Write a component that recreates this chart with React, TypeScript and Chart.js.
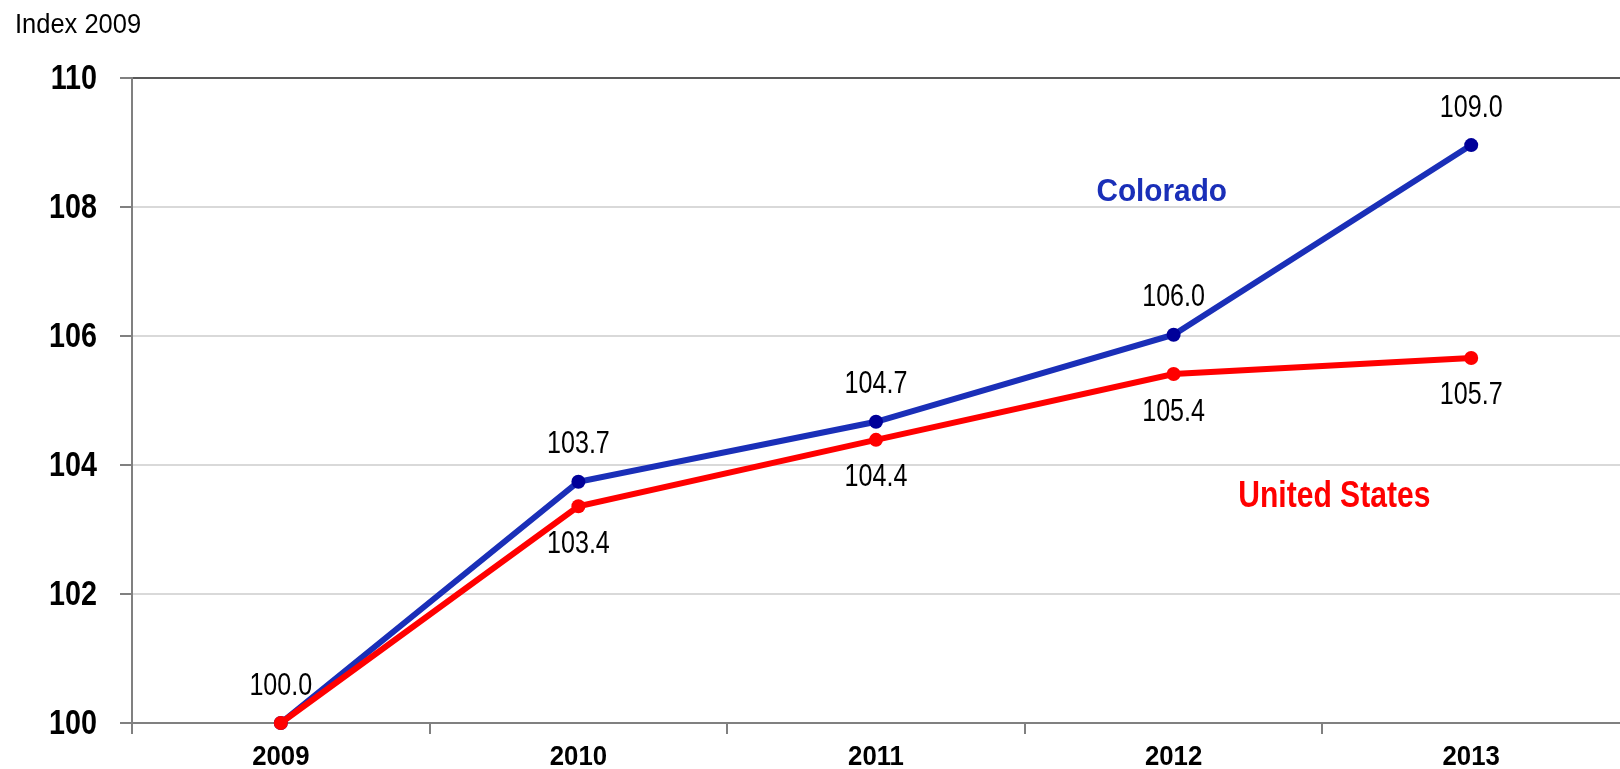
import { useEffect, useRef } from 'react';
import { Chart, registerables } from 'chart.js';

Chart.register(...registerables);

const years = ['2009', '2010', '2011', '2012', '2013'];
const colorado = [100.0, 103.74, 104.67, 106.02, 108.96];
const unitedStates = [100.0, 103.36, 104.39, 105.41, 105.66];
const coloradoLabels = ['100.0', '103.7', '104.7', '106.0', '109.0'];
const usLabels = [null, '103.4', '104.4', '105.4', '105.7'];
const yMin = 100;
const yMax = 110;
const yStep = 2;

const SANS = "'Liberation Sans', Arial, sans-serif";

const BLUE_LINE = '#1a2fb8';
const BLUE_POINT = '#000099';
const RED = '#ff0000';
const AXIS = '#808080';

function drawText(
  ctx: CanvasRenderingContext2D,
  text: string,
  x: number,
  y: number,
  font: string,
  color: string,
  align: CanvasTextAlign,
  baseline: CanvasTextBaseline,
  sx: number
) {
  ctx.save();
  ctx.translate(x, y);
  ctx.scale(sx, 1);
  ctx.font = font;
  ctx.fillStyle = color;
  ctx.textAlign = align;
  ctx.textBaseline = baseline;
  ctx.fillText(text, 0, 0);
  ctx.restore();
}

const axisTicksPlugin = {
  id: 'axisTicks',
  beforeDatasetsDraw(chart: any) {
    const ctx = chart.ctx as CanvasRenderingContext2D;
    const xs = chart.scales.x;
    const bottom = chart.chartArea.bottom;
    ctx.save();
    ctx.strokeStyle = AXIS;
    ctx.lineWidth = 2;
    const n = xs.ticks.length;
    for (let i = 0; i < n; i++) {
      const c = xs.getPixelForTick(i);
      const half = n > 1 ? (i > 0 ? c - xs.getPixelForTick(i - 1) : xs.getPixelForTick(1) - c) / 2 : 0;
      const bx = Math.round(c - half);
      ctx.beginPath();
      ctx.moveTo(bx, bottom);
      ctx.lineTo(bx, bottom + 11);
      ctx.stroke();
    }
    ctx.restore();
  },
};

const labelsPlugin = {
  id: 'customLabels',
  afterDraw(chart: any) {
    const ctx = chart.ctx as CanvasRenderingContext2D;
    const xs = chart.scales.x;
    const ys = chart.scales.y;
    // y tick labels
    ys.ticks.forEach((t: any, i: number) => {
      const y = ys.getPixelForTick(i);
      drawText(ctx, String(t.value), 97, y + 1, `bold 35px ${SANS}`, '#000000', 'right', 'middle', 0.82);
    });
    // x tick labels
    xs.ticks.forEach((t: any, i: number) => {
      const x = xs.getPixelForTick(i);
      drawText(ctx, years[i], x, 765, `bold 28px ${SANS}`, '#000000', 'center', 'alphabetic', 0.92);
    });
    // value labels
    chart.data.datasets.forEach((ds: any, i: number) => {
      const meta = chart.getDatasetMeta(i);
      const labels = ds.valueLabels as (string | null)[];
      const off = ds.labelOffset as number;
      meta.data.forEach((p: any, j: number) => {
        const t = labels[j];
        if (!t) return;
        drawText(ctx, t, p.x, p.y + off, `31px ${SANS}`, '#000000', 'center', 'middle', 0.81);
      });
    });
    // series names
    drawText(ctx, 'Colorado', xs.getPixelForValue(2.96), ys.getPixelForValue(108.23), `bold 31px ${SANS}`, BLUE_LINE, 'center', 'middle', 0.96);
    drawText(ctx, 'United States', xs.getPixelForValue(3.54), ys.getPixelForValue(103.5), `bold 36px ${SANS}`, RED, 'center', 'middle', 0.835);
    // axis title
    drawText(ctx, 'Index 2009', 15, 33, `28px ${SANS}`, '#000000', 'left', 'alphabetic', 0.91);
  },
};

export default function App() {
  const ref = useRef<HTMLCanvasElement | null>(null);

  useEffect(() => {
    document.body.style.margin = '0';
    const canvas = ref.current;
    if (!canvas) return;
    const chart = new Chart(canvas, {
      type: 'line',
      data: {
        labels: years,
        datasets: [
          {
            label: 'Colorado',
            data: colorado,
            borderColor: BLUE_LINE,
            backgroundColor: BLUE_POINT,
            pointBackgroundColor: BLUE_POINT,
            pointBorderColor: BLUE_POINT,
            pointBorderWidth: 0,
            pointRadius: 7,
            borderWidth: 6,
            tension: 0,
            clip: false,
            order: 1,
            valueLabels: coloradoLabels,
            labelOffset: -37,
          } as any,
          {
            label: 'United States',
            data: unitedStates,
            borderColor: RED,
            backgroundColor: RED,
            pointBackgroundColor: RED,
            pointBorderColor: RED,
            pointBorderWidth: 0,
            pointRadius: 7,
            borderWidth: 6,
            tension: 0,
            clip: false,
            order: 0,
            valueLabels: usLabels,
            labelOffset: 38,
          } as any,
        ],
      },
      options: {
        responsive: false,
        animation: false,
        layout: { autoPadding: false, padding: { top: 78, left: 0, right: 0, bottom: 0 } },
        plugins: {
          legend: { display: false },
          tooltip: { enabled: false },
          title: { display: false },
        },
        scales: {
          x: {
            offset: true,
            grid: {
              display: false,
              drawTicks: false,
            },
            border: { display: true, color: AXIS, width: 2 },
            ticks: {
              color: 'rgba(0,0,0,0)',
              padding: 6,
              font: { family: SANS, size: 28, weight: 'bold' },
            },
            afterFit(scale: any) {
              scale.height = 46;
              scale.paddingLeft = 0;
              scale.paddingRight = 0;
            },
          },
          y: {
            min: yMin,
            max: yMax,
            grid: {
              color: (c: any) => (c.tick && c.tick.value === yMax ? '#595959' : '#d9d9d9'),
              lineWidth: 2,
              drawTicks: true,
              tickLength: 12,
              tickColor: AXIS,
              tickWidth: 2,
            },
            border: { display: true, color: AXIS, width: 2 },
            ticks: {
              stepSize: yStep,
              color: 'rgba(0,0,0,0)',
              padding: 23,
              font: { family: SANS, size: 35, weight: 'bold' },
            },
            afterFit(scale: any) {
              scale.width = 132;
              scale.paddingTop = 0;
              scale.paddingBottom = 0;
            },
          },
        },
      },
      plugins: [axisTicksPlugin, labelsPlugin],
    });
    return () => chart.destroy();
  }, []);

  return (
    <div style={{ width: 1620, height: 769, background: '#ffffff' }}>
      <canvas ref={ref} width={1620} height={769} style={{ display: 'block' }} />
    </div>
  );
}
